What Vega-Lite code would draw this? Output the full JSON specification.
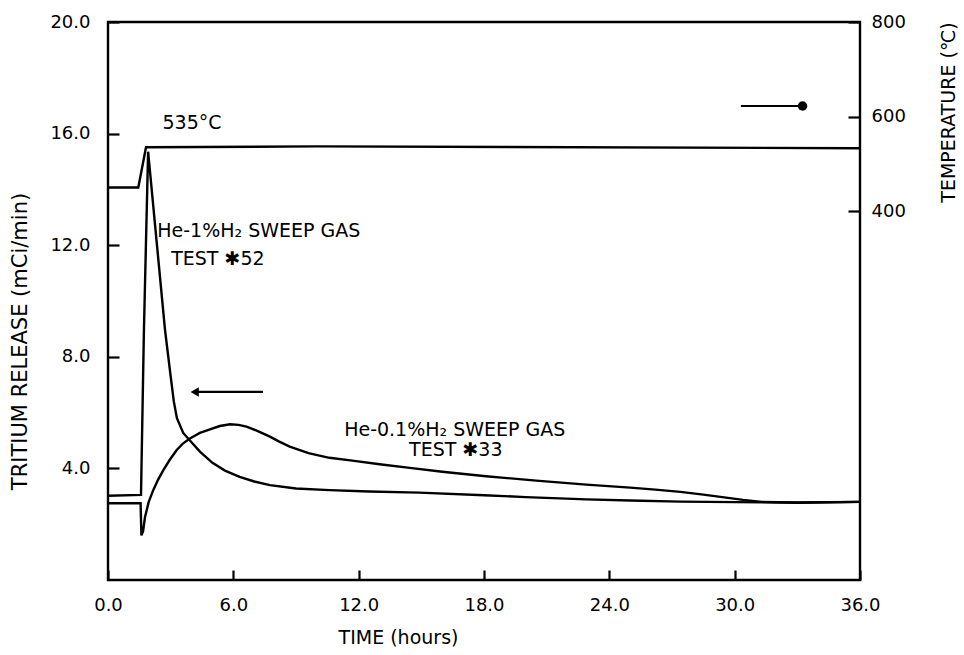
{
  "$schema": "https://vega.github.io/schema/vega-lite/v6.json",
  "width": 752,
  "height": 558,
  "autosize": {"type": "none"},
  "padding": {"left": 108, "top": 22, "right": 104, "bottom": 75},
  "background": "white",
  "config": {
    "font": "DejaVu Sans",
    "view": {"stroke": "black", "strokeWidth": 2.4},
    "axis": {
      "grid": false,
      "domain": false,
      "tickColor": "black",
      "tickWidth": 2.2,
      "labelColor": "black",
      "labelFontSize": 18,
      "labelFlush": false,
      "titleColor": "black",
      "titleFontWeight": "normal"
    }
  },
  "datasets": {
    "release": [
      {"series": "A", "t": 0, "v": 3.02},
      {"series": "A", "t": 1.58, "v": 3.05},
      {"series": "A", "t": 1.72, "v": 8.96},
      {"series": "A", "t": 1.92, "v": 15.35},
      {"series": "A", "t": 2.73, "v": 8.96},
      {"series": "A", "t": 3.0, "v": 7.3},
      {"series": "A", "t": 3.15, "v": 6.4},
      {"series": "A", "t": 3.3, "v": 5.8},
      {"series": "A", "t": 3.6, "v": 5.27},
      {"series": "A", "t": 3.9, "v": 5.02},
      {"series": "A", "t": 4.4, "v": 4.6},
      {"series": "A", "t": 5.0, "v": 4.2},
      {"series": "A", "t": 5.6, "v": 3.92},
      {"series": "A", "t": 6.3, "v": 3.7},
      {"series": "A", "t": 7.0, "v": 3.53},
      {"series": "A", "t": 7.75, "v": 3.4},
      {"series": "A", "t": 9.0, "v": 3.28},
      {"series": "A", "t": 10.6, "v": 3.22},
      {"series": "A", "t": 12.5, "v": 3.17},
      {"series": "A", "t": 14.9, "v": 3.13},
      {"series": "A", "t": 18.0, "v": 3.04},
      {"series": "A", "t": 20.0, "v": 2.97},
      {"series": "A", "t": 22.9, "v": 2.89},
      {"series": "A", "t": 25.0, "v": 2.85},
      {"series": "A", "t": 27.4, "v": 2.81},
      {"series": "A", "t": 30.0, "v": 2.79},
      {"series": "A", "t": 33.0, "v": 2.77},
      {"series": "A", "t": 36.0, "v": 2.8},
      {"series": "B", "t": 0, "v": 2.75},
      {"series": "B", "t": 1.56, "v": 2.75},
      {"series": "B", "t": 1.6, "v": 1.6},
      {"series": "B", "t": 1.68, "v": 1.75},
      {"series": "B", "t": 1.77, "v": 2.25},
      {"series": "B", "t": 1.95, "v": 2.8},
      {"series": "B", "t": 2.17, "v": 3.23},
      {"series": "B", "t": 2.4, "v": 3.6},
      {"series": "B", "t": 2.65, "v": 3.94},
      {"series": "B", "t": 2.95, "v": 4.3},
      {"series": "B", "t": 3.29, "v": 4.66},
      {"series": "B", "t": 3.6, "v": 4.9},
      {"series": "B", "t": 3.9, "v": 5.06},
      {"series": "B", "t": 4.4, "v": 5.27},
      {"series": "B", "t": 4.88, "v": 5.4},
      {"series": "B", "t": 5.35, "v": 5.52},
      {"series": "B", "t": 5.84, "v": 5.58},
      {"series": "B", "t": 6.25, "v": 5.56},
      {"series": "B", "t": 6.63, "v": 5.5},
      {"series": "B", "t": 7.2, "v": 5.33},
      {"series": "B", "t": 7.75, "v": 5.14},
      {"series": "B", "t": 8.2, "v": 4.96},
      {"series": "B", "t": 8.7, "v": 4.78},
      {"series": "B", "t": 9.6, "v": 4.55},
      {"series": "B", "t": 10.6, "v": 4.38},
      {"series": "B", "t": 11.7, "v": 4.28},
      {"series": "B", "t": 13.0, "v": 4.15},
      {"series": "B", "t": 14.45, "v": 4.02},
      {"series": "B", "t": 16.0, "v": 3.88},
      {"series": "B", "t": 18.1, "v": 3.72},
      {"series": "B", "t": 20.5, "v": 3.56},
      {"series": "B", "t": 22.9, "v": 3.42},
      {"series": "B", "t": 25.0, "v": 3.31},
      {"series": "B", "t": 26.2, "v": 3.24},
      {"series": "B", "t": 27.4, "v": 3.16},
      {"series": "B", "t": 28.5, "v": 3.06},
      {"series": "B", "t": 29.5, "v": 2.96},
      {"series": "B", "t": 30.4, "v": 2.87},
      {"series": "B", "t": 31.3, "v": 2.8},
      {"series": "B", "t": 33.0, "v": 2.78},
      {"series": "B", "t": 36.0, "v": 2.8}
    ],
    "temp": [
      {"t": 0, "c": 450},
      {"t": 1.45, "c": 450},
      {"t": 1.82, "c": 535},
      {"t": 10.0, "c": 537},
      {"t": 36.0, "c": 533}
    ],
    "notes": [
      {"t": 4.02, "v": 16.38, "label": "535°C"},
      {"t": 7.22, "v": 12.51, "label": "He-1%H₂ SWEEP GAS"},
      {"t": 5.26, "v": 11.5, "label": "TEST ✱52"},
      {"t": 16.6, "v": 5.38, "label": "He-0.1%H₂ SWEEP GAS"},
      {"t": 16.65, "v": 4.66, "label": "TEST ✱33"}
    ],
    "arrows": [
      {"t": 7.42, "t2": 4.15, "v": 6.74, "head": "triangle-left"},
      {"t": 30.3, "t2": 33.25, "v": 16.99, "head": "circle"}
    ]
  },
  "layer": [
    {
      "encoding": {
        "x": {
          "field": "t",
          "type": "quantitative",
          "scale": {"domain": [0, 36], "nice": false},
          "axis": {
            "values": [0, 6, 12, 18, 24, 30, 36],
            "format": ".1f",
            "offset": -10,
            "tickSize": 10,
            "labelPadding": 16,
            "title": "TIME (hours)",
            "titleFontSize": 19,
            "titleX": 290,
            "titleY": 67,
            "titleAlign": "center",
            "titleBaseline": "middle"
          }
        },
        "y": {
          "field": "v",
          "type": "quantitative",
          "scale": {"domain": [0, 20], "nice": false},
          "axis": {
            "values": [4, 8, 12, 16, 20],
            "format": ".1f",
            "offset": -11,
            "tickSize": 11,
            "labelPadding": 18,
            "title": "TRITIUM RELEASE (mCi/min)",
            "titleFontSize": 21,
            "titleAngle": 270,
            "titleX": -99,
            "titleY": 319,
            "titleAlign": "center",
            "titleBaseline": "middle"
          }
        }
      },
      "layer": [
        {
          "data": {"name": "release"},
          "mark": {"type": "line", "color": "black", "strokeWidth": 2.4},
          "encoding": {"detail": {"field": "series"}}
        },
        {
          "data": {"name": "notes"},
          "mark": {"type": "text", "fontSize": 19, "color": "black", "align": "center", "baseline": "middle"},
          "encoding": {"text": {"field": "label"}}
        },
        {
          "data": {"name": "arrows"},
          "mark": {"type": "rule", "color": "black", "strokeWidth": 2.2},
          "encoding": {"x2": {"field": "t2"}}
        },
        {
          "data": {"name": "arrows"},
          "mark": {"type": "point", "filled": true, "color": "black", "opacity": 1, "size": 90},
          "encoding": {
            "x": {"field": "t2", "type": "quantitative"},
            "shape": {"field": "head", "type": "nominal", "scale": null}
          }
        }
      ]
    },
    {
      "data": {"name": "temp"},
      "mark": {"type": "line", "color": "black", "strokeWidth": 2.4},
      "encoding": {
        "x": {"field": "t", "type": "quantitative", "scale": {"domain": [0, 36], "nice": false}},
        "y": {
          "field": "c",
          "type": "quantitative",
          "scale": {"domain": [-380, 800], "nice": false},
          "axis": {
            "orient": "right",
            "values": [400, 600, 800],
            "offset": -12,
            "tickSize": 12,
            "labelPadding": 11,
            "title": "TEMPERATURE (℃)",
            "titleFontSize": 19,
            "titleAngle": 270,
            "titleX": 100,
            "titleY": 90,
            "titleAlign": "center",
            "titleBaseline": "middle"
          }
        }
      }
    }
  ],
  "resolve": {"scale": {"y": "independent"}}
}
